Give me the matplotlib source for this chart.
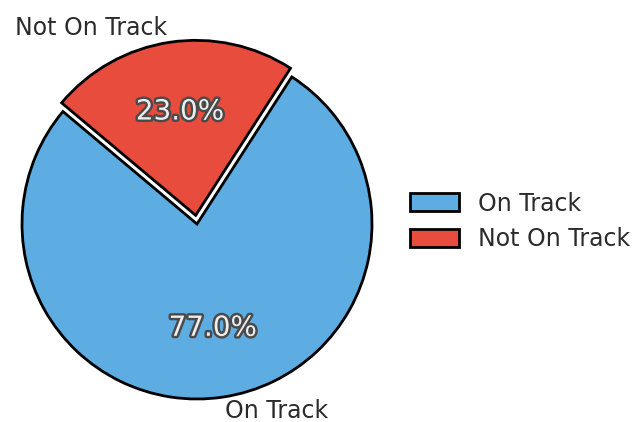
import matplotlib.pyplot as plt
import matplotlib.patheffects as pe

labels = ["On Track", "Not On Track"]
shares = [77.0, 23.0]
colors = ["#5DADE2", "#E74C3C"]
explode = [0, 0.05]

fig = plt.figure(figsize=(6.42, 4.22), dpi=100)
ax = fig.add_axes([0, 0, 1, 1])

wedges, texts, autotexts = ax.pie(
    shares, labels=labels, colors=colors, explode=explode,
    autopct="%1.1f%%", startangle=140, labeldistance=1.08,
    wedgeprops={"edgecolor": "black", "linewidth": 2},
    textprops={"fontsize": 17, "color": "#2b2b2b"},
)
for t in autotexts:
    t.set_color("#eeeeee")
    t.set_fontsize(20)
    t.set_path_effects([pe.withStroke(linewidth=3.5, foreground="#4a4a4a")])

# center at (197, 224) px, radius 175 px
r = 175
ax.set_xlim(-197 / r, (642 - 197) / r)
ax.set_ylim(-198 / r, 224 / r)
ax.set_aspect("equal")
ax.axis("off")

ax.legend(wedges, labels, loc="center left", bbox_to_anchor=(0.605, 0.475),
          bbox_transform=fig.transFigure, frameon=False, fontsize=17,
          labelcolor="#2b2b2b", handlelength=2.1, handleheight=0.8,
          labelspacing=0.5)

fig.savefig("out.png", dpi=100)
